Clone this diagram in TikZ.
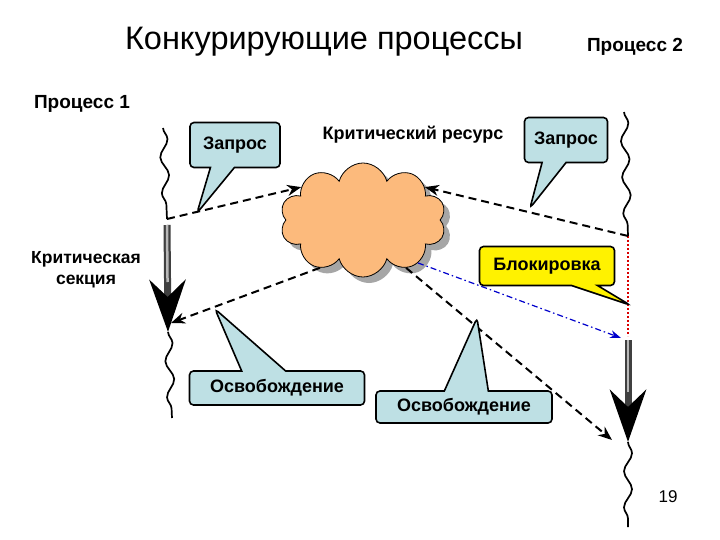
\documentclass[tikz,border=0pt]{standalone}
\usepackage{fontspec}
\setmainfont{Liberation Sans}
\usetikzlibrary{shapes.symbols,shapes.callouts,shadows,decorations.pathmorphing,arrows.meta}

\definecolor{cloudorange}{RGB}{252,186,124}
\definecolor{calloutblue}{RGB}{190,224,228}

\tikzset{
	heading/.style={font=\bfseries\fontsize{19}{21}\selectfont},
	bubble/.style={rectangle callout, draw=black, line width=1.6pt, rounded corners=4pt,
		fill=calloutblue, font=\bfseries\fontsize{18}{20}\selectfont, callout pointer width=24pt},
	request/.style={line width=2pt, dash pattern=on 8pt off 5pt, -{Stealth[length=14pt,width=11pt]}},
	lock/.style={blue!80!black, line width=1.2pt, dash pattern=on 6pt off 3pt on 1.5pt off 3pt, -{Stealth[length=11pt,width=8pt]}},
	waveline/.style={line width=1.7pt, decorate, decoration={snake, amplitude=4pt, segment length=36pt}},
	critarrow/.style={line width=7pt, black!75, -{Stealth[length=52pt,width=36pt,inset=17pt,black]}},
	critcore/.style={line width=2.5pt, gray!55}
}

\begin{document}
\begin{tikzpicture}[x=1pt,y=-1pt]

	\useasboundingbox[fill=white] (0,0) rectangle (720,540);

	% titles
	\node (title) at (324,42) {\fontsize{32.5}{35}\selectfont Конкурирующие процессы};
	\node[heading] (proc2) at (635,47) {Процесс 2};
	\node[heading] (proc1) at (82,104) {Процесс 1};
	\node[heading, font=\bfseries\fontsize{18}{20}\selectfont] (restitle) at (413,135) {Критический ресурс};
	\node[heading, font=\bfseries\fontsize{17.5}{21}\selectfont, align=center] (crittitle) at (86,270) {Критическая\\секция};
	\node (page) at (668,497) {\fontsize{17}{19}\selectfont 19};

	% process 1
	\coordinate (p1top) at (163,128);
	\coordinate (p1req) at (167,219);
	\coordinate (p1in) at (167,225);
	\coordinate (p1out) at (168,332);
	\coordinate (p1end) at (172,418);
	\coordinate (p1rel) at (171,323);

	% process 2
	\coordinate (p2top) at (624,112);
	\coordinate (p2req) at (628,236);
	\coordinate (p2wait) at (628,336);
	\coordinate (p2in) at (628,340);
	\coordinate (p2out) at (628,442);
	\coordinate (p2end) at (628,527);
	\coordinate (p2rel) at (612,440);
	\coordinate (p2lock) at (621,338);

	% resource
	\node[cloud, cloud puffs=10, aspect=1.6, draw=black, line width=0.8pt, fill=cloudorange,
		minimum width=166pt, minimum height=114pt,
		drop shadow={fill=gray!70, shadow xshift=6pt, shadow yshift=-6pt, opacity=1}] (res) at (363,220) {};

	\draw[waveline] (p1top) -- (p1req);
	\draw[critarrow] (p1in) -- (p1out);
	\draw[critcore, shorten >=50pt] (p1in) -- (p1out);
	\draw[waveline] (p1out) -- (p1end);

	\draw[waveline] (p2top) -- (p2req);
	\draw[red!85!black, line width=2pt, dotted] (p2req) -- (p2wait);
	\draw[critarrow] (p2in) -- (p2out);
	\draw[critcore, shorten >=50pt] (p2in) -- (p2out);
	\draw[waveline] (p2out) -- (p2end);

	\draw[request] (p1req) -- (res.152);
	\draw[request] (p2req) -- (res.28);
	\draw[request] (res.228) -- (p1rel);
	\draw[request] (res.312) -- (p2rel);
	\draw[lock] (res.322) -- (p2lock);

	% callouts
	\coordinate (q1) at (197,213);
	\coordinate (q2) at (530,208);
	\coordinate (q3) at (630,305);
	\coordinate (q4) at (215,309);
	\coordinate (q5) at (477,318);

	\node[bubble, minimum width=90pt, minimum height=45pt, callout absolute pointer={(q1)}] (zap1) at (235,145) {Запрос};
	\node[bubble, minimum width=83pt, minimum height=45pt, callout absolute pointer={(q2)}] (zap2) at (566,140) {Запрос};
	\node[bubble, fill=yellow, minimum width=135pt, minimum height=39pt, callout pointer width=26pt, callout absolute pointer={(q3)}] (blok) at (547,266) {Блокировка};
	\node[bubble, minimum width=175pt, minimum height=34pt, callout pointer width=44pt, callout absolute pointer={(q4)}] (osv1) at (277,388) {Освобождение};
	\node[bubble, minimum width=176pt, minimum height=32pt, callout pointer width=44pt, callout absolute pointer={(q5)}] (osv2) at (464,407) {Освобождение};

\end{tikzpicture}
\end{document}
